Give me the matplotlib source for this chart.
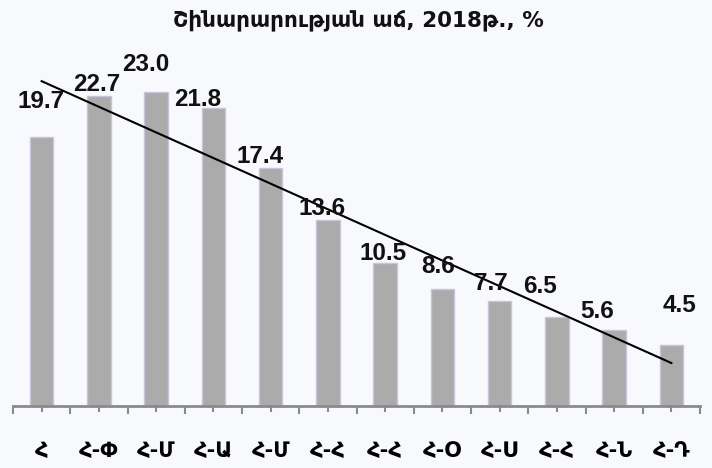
import numpy as np
import matplotlib.pyplot as plt
from matplotlib.ticker import FixedLocator

# data
regions = ["Հ", "Հ-Փ", "Հ-Մ", "Հ-Ա", "Հ-Մ", "Հ-Հ", "Հ-Հ", "Հ-Օ", "Հ-Ս", "Հ-Հ", "Հ-Ն", "Հ-Դ"]
growth = [19.7, 22.7, 23.0, 21.8, 17.4, 13.6, 10.5, 8.6, 7.7, 6.5, 5.6, 4.5]
title = "Շինարարության աճ, 2018թ., %"

# label nudges in pixels (dx, dy) – labels were moved by hand in the original
label_shift = [(-1, 35), (-2, 11), (-10, 27), (-16, 9), (-11, 12), (-6, 12),
               (-2, 9), (-4, 22), (-9, 17), (-17, 31), (-17, 18), (8, 39)]

bg = "#f8f9fd"
fig = plt.figure(figsize=(7.12, 4.68), dpi=100, facecolor=bg)
ax = fig.add_axes([13 / 712, 62 / 468, 687 / 712, 366 / 468], facecolor=bg)

x = np.arange(len(growth))
ax.bar(x, growth, width=0.41, color="#ababab", edgecolor="#cbc2dc", linewidth=1, zorder=2)

# linear trend
k, b = np.polyfit(x, growth, 1)
ax.plot([x[0], x[-1]], [k * x[0] + b, k * x[-1] + b], color="black", lw=1.5, zorder=3)

for i, v in enumerate(growth):
    dx, dy = label_shift[i]
    ax.annotate(f"{v:.1f}", (i, v), xytext=(dx, dy), textcoords="offset pixels",
                ha="center", va="center", fontsize=17.5, fontweight="bold",
                family=["Liberation Sans", "DejaVu Sans"], color="#111111",
                annotation_clip=False, zorder=4)

ax.set_xlim(-0.5, len(growth) - 0.5)
ax.set_ylim(0, 26.8)
ax.set_yticks([])
for s in ["left", "right", "top"]:
    ax.spines[s].set_visible(False)
ax.spines["bottom"].set_color("#8a8a8a")
ax.spines["bottom"].set_linewidth(2)

ax.set_xticks(x)
ax.set_xticklabels(regions, fontsize=15, fontweight="bold", family=["DejaVu Sans"])
ax.xaxis.set_minor_locator(FixedLocator(np.arange(-0.5, len(growth), 1.0)))
ax.tick_params(axis="x", which="major", length=4, width=1.5, color="#8a8a8a", pad=21)
ax.tick_params(axis="x", which="minor", length=6, width=1.5, color="#8a8a8a")

fig.text(0.504, 0.957, title, ha="center", va="center", fontsize=15.5,
         fontweight="bold", family=["DejaVu Sans"], color="#111111")

fig.savefig("out.png", dpi=100, facecolor=bg)
